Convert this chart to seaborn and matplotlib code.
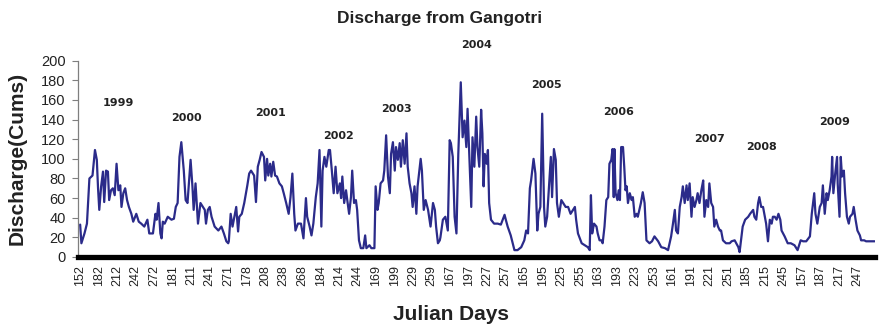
import numpy as np
import pandas as pd
import matplotlib
matplotlib.use("Agg")
import matplotlib.pyplot as plt
import seaborn as sns

# Monsoon-season daily discharge at Gangotri (Julian day, cumecs)
years = [1999, 2000, 2001, 2002, 2003, 2004, 2005, 2006, 2007, 2008, 2009]
season_first = [152, 165, 149, 160, 167, 151, 156, 151, 152, 176, 152]
season_last = [285, 271, 273, 271, 272, 277, 272, 273, 271, 269, 275]

days_1999 = [152, 154, 159, 163, 167, 172, 176, 179, 181, 183, 186, 189, 191, 194, 197, 199, 202, 205, 208, 211,
             214, 217, 219, 222, 225, 228, 231, 235, 238, 243, 247, 251, 256, 261, 264, 270, 274, 276, 279, 282, 284]
q_1999 = [33, 14, 24, 34, 80, 83, 109, 99, 70, 48, 72, 87, 56, 88, 87, 58, 68, 70, 63, 95,
          68, 73, 51, 65, 70, 58, 51, 44, 36, 44, 36, 34, 31, 38, 24, 24, 44, 38, 55, 24, 19]

days_2000 = [165, 168, 173, 179, 183, 186, 189, 192, 195, 199, 202, 205, 210, 213, 215, 218, 222, 226, 233, 235,
             238, 241, 244, 249, 255, 260, 264, 268, 271]
q_2000 = [36, 34, 41, 38, 39, 51, 55, 102, 117, 88, 58, 55, 99, 72, 48, 75, 34, 55, 48, 34,
          48, 51, 41, 31, 27, 31, 24, 16, 14]

days_2001 = [149, 152, 155, 161, 164, 166, 170, 174, 179, 182, 185, 190, 193, 196, 199, 202, 206, 208, 211, 213,
             216, 218, 221, 224, 227, 231, 235, 238, 242, 246, 249, 252, 255, 257, 261, 266, 270]
q_2001 = [16, 44, 31, 51, 26, 41, 44, 55, 73, 85, 88, 83, 56, 92, 99, 107, 102, 78, 100, 83,
          95, 82, 97, 83, 82, 75, 72, 65, 55, 44, 61, 85, 44, 27, 34, 34, 19]

days_2002 = [160, 162, 166, 169, 172, 176, 179, 182, 185, 187, 190, 193, 197, 199, 202, 205, 208, 211, 215, 217,
             219, 222, 225, 227, 230, 233, 235, 238, 241, 243, 246, 249, 253, 256, 258, 263, 266, 271]
q_2002 = [60, 41, 31, 22, 34, 61, 75, 109, 31, 88, 102, 92, 109, 109, 88, 65, 92, 65, 75, 60,
          82, 55, 68, 58, 44, 61, 88, 55, 58, 48, 17, 9, 9, 22, 9, 12, 9, 9]

days_2003 = [168, 171, 173, 176, 180, 182, 185, 188, 191, 193, 196, 199, 201, 204, 207, 209, 212, 215, 218, 220,
             223, 226, 228, 231, 234, 236, 241, 243, 246, 249, 253, 257, 261, 264, 266, 269, 272]
q_2003 = [72, 48, 55, 75, 78, 88, 124, 82, 65, 105, 117, 88, 112, 99, 116, 92, 119, 95, 126, 92,
          75, 65, 51, 72, 44, 72, 100, 88, 48, 58, 48, 31, 55, 48, 31, 14, 17]

days_2004 = [151, 155, 159, 163, 166, 168, 171, 174, 177, 180, 184, 187, 190, 193, 195, 198, 201, 203, 206, 209,
             211, 214, 217, 219, 221, 223, 226, 228, 230, 233, 238, 244, 249, 255, 257, 260, 265, 271, 276]
q_2004 = [20, 38, 41, 27, 119, 116, 102, 41, 24, 105, 178, 122, 139, 112, 151, 102, 51, 122, 92, 143,
          112, 92, 150, 126, 72, 105, 95, 109, 55, 38, 34, 34, 33, 43, 38, 31, 22, 7, 7]

days_2005 = [156, 160, 165, 168, 171, 174, 176, 180, 183, 186, 188, 191, 194, 197, 199, 202, 205, 208, 210, 213,
             216, 218, 221, 225, 228, 232, 236, 240, 244, 247, 249, 252, 258, 263, 268, 271]
q_2005 = [8, 10, 17, 27, 24, 70, 78, 100, 85, 27, 44, 51, 146, 51, 31, 41, 72, 102, 61, 110,
          99, 55, 41, 58, 55, 51, 51, 44, 48, 51, 38, 24, 14, 12, 10, 7]

days_2006 = [151, 153, 156, 160, 162, 165, 168, 170, 173, 176, 179, 181, 184, 186, 188, 189, 191, 194, 196, 198,
             200, 203, 205, 207, 209, 211, 214, 217, 219, 222, 225, 227, 232, 235, 238, 241, 246, 250, 254, 260,
             265, 271]
q_2006 = [63, 24, 34, 31, 24, 17, 17, 14, 31, 58, 61, 95, 99, 110, 61, 110, 65, 58, 68, 58,
          112, 112, 92, 68, 72, 55, 65, 58, 61, 41, 44, 41, 55, 66, 55, 17, 14, 16, 21, 16,
          10, 9]

days_2007 = [154, 159, 162, 165, 167, 170, 173, 176, 178, 181, 184, 186, 189, 192, 194, 197, 200, 202, 205, 208,
             211, 213, 216, 219, 221, 224, 227, 229, 232, 235, 238, 240, 243, 248, 254, 257, 262, 268, 270]
q_2007 = [7, 21, 34, 48, 27, 24, 51, 61, 72, 55, 73, 58, 75, 41, 61, 51, 58, 65, 55, 68,
          78, 41, 58, 51, 75, 55, 51, 31, 38, 31, 27, 27, 17, 14, 14, 16, 17, 10, 5]

days_2008 = [177, 179, 183, 188, 191, 196, 198, 201, 204, 206, 209, 212, 215, 217, 220, 223, 226, 228, 231, 234,
             237, 240, 242, 247, 252, 257, 263, 268]
q_2008 = [21, 31, 38, 41, 44, 48, 41, 38, 55, 61, 51, 51, 41, 34, 16, 38, 34, 41, 41, 38,
          44, 38, 27, 21, 14, 14, 12, 7]

days_2009 = [155, 159, 164, 170, 173, 177, 179, 182, 186, 189, 191, 194, 197, 199, 202, 205, 206, 208, 211, 214,
             215, 218, 220, 222, 225, 227, 230, 233, 235, 239, 241, 244, 247, 251, 253, 258, 261, 267, 272, 275]
q_2009 = [17, 16, 16, 21, 44, 65, 44, 34, 51, 55, 73, 44, 65, 58, 68, 82, 102, 65, 85, 102,
          75, 41, 102, 82, 88, 65, 41, 34, 41, 44, 51, 38, 27, 22, 17, 17, 16, 16, 16, 16]

season_days = [days_1999, days_2000, days_2001, days_2002, days_2003, days_2004,
               days_2005, days_2006, days_2007, days_2008, days_2009]
season_q = [q_1999, q_2000, q_2001, q_2002, q_2003, q_2004,
            q_2005, q_2006, q_2007, q_2008, q_2009]

# Year annotations: (position along the season axis, height in cumecs)
year_label_xy = [(62, 157), (172, 142), (308, 147), (418, 123), (512, 151), (642, 216),
                 (756, 175), (872, 148), (1020, 120), (1104, 112), (1223, 138)]

# Lay the seasons end to end on a common day axis
frames, offsets = [], []
offset = 0
for yr, first, last, d, q in zip(years, season_first, season_last, season_days, season_q):
    d = np.asarray(d)
    frames.append(pd.DataFrame({"pos": offset + d - first, "discharge": q, "year": yr}))
    offsets.append(offset)
    offset += last - first + 1
total = offset
df = pd.concat(frames, ignore_index=True)


def julian_at(p):
    k = max(i for i, o in enumerate(offsets) if o <= p)
    return season_first[k] + p - offsets[k]


sns.set_theme(style="white")
plt.rcParams["font.family"] = ["Liberation Sans", "DejaVu Sans"]

W, H = 880, 331
fig = plt.figure(figsize=(W / 100, H / 100), dpi=100)
ax = fig.add_axes([78 / W, (H - 257) / H, 797 / W, 196.3 / H])

sns.lineplot(data=df, x="pos", y="discharge", color="#2b2b8a", linewidth=1.6,
             estimator=None, sort=True, ax=ax)

ax.set_xlim(-3.5, total - 0.5)
ax.set_ylim(0, 200)
ax.set_yticks(range(0, 201, 20))
tick_pos = np.arange(0, total, 30)
ax.set_xticks(tick_pos)
ax.set_xticklabels([str(julian_at(p)) for p in tick_pos], rotation=90, fontsize=9)
ax.tick_params(axis="x", length=0, pad=6, colors="#222222")
ax.tick_params(axis="y", length=4, width=0.8, direction="out", pad=5, labelsize=10.5,
               color="#7f7f7f", labelcolor="#222222", left=True)

for s in ("top", "right"):
    ax.spines[s].set_visible(False)
ax.spines["left"].set_color("#7f7f7f")
ax.spines["left"].set_linewidth(0.9)
ax.spines["bottom"].set_color("black")
ax.spines["bottom"].set_linewidth(3.8)

for yr, (px, py) in zip(years, year_label_xy):
    ax.text(px, py, str(yr), ha="center", va="center", fontsize=8, fontweight="bold",
            family="DejaVu Sans", color="#222222", clip_on=False)

ax.set_xlabel("Julian Days", fontsize=15, fontweight="bold", color="#222222")
ax.set_ylabel("Discharge(Cums)", fontsize=15, fontweight="bold", color="#222222")
ax.xaxis.set_label_coords((451 - 78) / 797, -(305 - 257) / 196.3)
ax.yaxis.set_label_coords(-(78 - 27) / 797, 0.5)
fig.text(440 / W, 1 - 18 / H, "Discharge from Gangotri", ha="center", va="center",
         fontsize=12.5, fontweight="bold", color="#222222")

fig.savefig("out.png", dpi=100)
